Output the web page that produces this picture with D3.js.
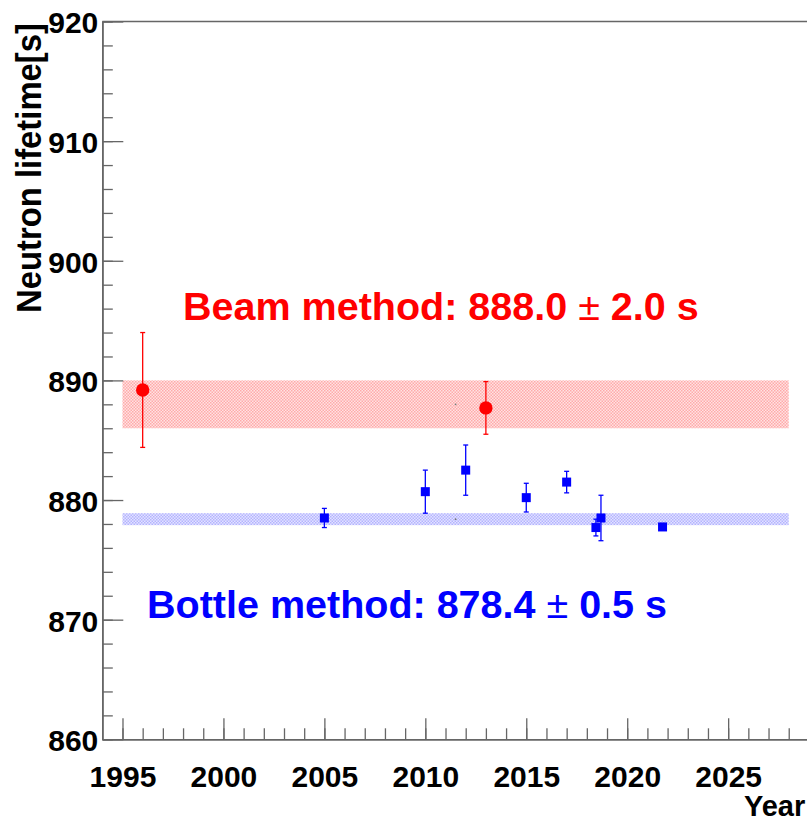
<!DOCTYPE html>
<html>
<head>
<meta charset="utf-8">
<script src="https://cdn.jsdelivr.net/npm/d3@7"></script>
<style>
  html, body { margin: 0; padding: 0; background: #fff; }
  svg { display: block; }
  text { font-family: "Liberation Sans", Arial, Helvetica, sans-serif; font-weight: bold; }
</style>
</head>
<body>
<svg id="chart" width="807" height="821"></svg>
<script>
// Beam-method measurements
const beamYears  = [1996, 2013];
const beamValues = [889.2, 887.7];
const beamErrors = [4.8, 2.2];

// Bottle-method measurements
const bottleYears  = [2005, 2010, 2012, 2015, 2017, 2018.45, 2018.7, 2021.75];
const bottleValues = [878.5, 880.7, 882.5, 880.2, 881.5, 877.7, 878.5, 877.75];
const bottleErrors = [0.8, 1.8, 2.1, 1.2, 0.9, 0.7, 1.9, 0.28];

// Averages drawn as bands (centre year, half-width in years)
const bandCentreYear = 2011.5;
const bandHalfWidth  = 16.5;
const beamMean = 888.0, beamSigma = 2.0;
const bottleMean = 878.4, bottleSigma = 0.5;

// Axis ticks
const xMajorTicks = [1995, 2000, 2005, 2010, 2015, 2020, 2025];
const xMinorTicks = d3.range(1995, 2031, 1);
const yMajorTicks = [860, 870, 880, 890, 900, 910, 920];
const yMinorTicks = d3.range(860, 921, 2);

const svg = d3.select("#chart");
svg.append("rect").attr("width", 807).attr("height", 821).attr("fill", "#fff");

const x = d3.scaleLinear().domain([1994, 2030]).range([102.3, 829.1]);
const y = d3.scaleLinear().domain([860, 920]).range([739.3, 21.5]);

// Dotted fill patterns for the bands
const defs = svg.append("defs");
function checker(id, dark, light) {
  const p = defs.append("pattern").attr("id", id)
    .attr("patternUnits", "userSpaceOnUse").attr("width", 3).attr("height", 3);
  p.append("rect").attr("width", 3).attr("height", 3).attr("fill", light);
  p.append("rect").attr("x", 0).attr("y", 0).attr("width", 1.5).attr("height", 1.5).attr("fill", dark);
  p.append("rect").attr("x", 1.5).attr("y", 1.5).attr("width", 1.5).attr("height", 1.5).attr("fill", dark);
}
checker("beamHatch", "#ffaaaa", "#ffe3e3");
checker("bottleHatch", "#b3b3ff", "#e3e3ff");

const bands = [
  { mean: beamMean, sigma: beamSigma, fill: "url(#beamHatch)" },
  { mean: bottleMean, sigma: bottleSigma, fill: "url(#bottleHatch)" }
];
svg.append("g").selectAll("rect").data(bands).join("rect")
  .attr("x", x(bandCentreYear - bandHalfWidth))
  .attr("width", x(bandCentreYear + bandHalfWidth) - x(bandCentreYear - bandHalfWidth))
  .attr("y", d => y(d.mean + d.sigma))
  .attr("height", d => y(d.mean - d.sigma) - y(d.mean + d.sigma))
  .attr("fill", d => d.fill);
// centre markers of the bands
svg.append("g").selectAll("circle").data(bands).join("circle")
  .attr("cx", x(bandCentreYear)).attr("cy", d => y(d.mean)).attr("r", 0.9)
  .attr("fill", "#777");

// Axes: minor then major ticks, all drawn inward
const axisColor = "#666";
function styleAxis(g) {
  g.selectAll("path.domain").attr("stroke", axisColor).attr("stroke-width", 1.6);
  g.selectAll(".tick line").attr("stroke", axisColor).attr("stroke-width", 1.3);
}
svg.append("g").attr("transform", `translate(0,${y(860)})`)
  .call(d3.axisBottom(x).tickValues(xMinorTicks).tickSizeInner(-11).tickSizeOuter(0).tickFormat(""))
  .call(styleAxis);
const xAxisG = svg.append("g").attr("transform", `translate(0,${y(860)})`)
  .call(d3.axisBottom(x).tickValues(xMajorTicks).tickSizeInner(-21).tickSizeOuter(0).tickFormat(d3.format("d")))
  .call(styleAxis);
xAxisG.selectAll(".tick text")
  .attr("y", 47.5).attr("dy", null)
  .attr("fill", "#000").attr("font-size", 30)
  .attr("font-family", "Liberation Sans, Arial, sans-serif").attr("font-weight", "bold");

svg.append("g").attr("transform", `translate(${x(1994)},0)`)
  .call(d3.axisLeft(y).tickValues(yMinorTicks).tickSizeInner(-10.5).tickSizeOuter(0).tickFormat(""))
  .call(styleAxis);
const yAxisG = svg.append("g").attr("transform", `translate(${x(1994)},0)`)
  .call(d3.axisLeft(y).tickValues(yMajorTicks).tickSizeInner(-21).tickSizeOuter(0).tickFormat(d3.format("d")))
  .call(styleAxis);
yAxisG.selectAll(".tick text")
  .attr("x", -4).attr("dy", "0.38em")
  .attr("fill", "#000").attr("font-size", 30)
  .attr("font-family", "Liberation Sans, Arial, sans-serif").attr("font-weight", "bold");

// Top frame line
svg.append("line")
  .attr("x1", x(1994)).attr("x2", x(2030)).attr("y1", y(920)).attr("y2", y(920))
  .attr("stroke", axisColor).attr("stroke-width", 1.6);

// Axis titles
svg.append("text")
  .attr("transform", `translate(40.5,23) rotate(-90)`)
  .attr("text-anchor", "end").attr("font-size", 35)
  .attr("textLength", 290).attr("lengthAdjust", "spacingAndGlyphs")
  .text("Neutron lifetime[s]");
svg.append("text")
  .attr("x", 744).attr("y", 816).attr("font-size", 29)
  .text("Year");

// Error bars with small caps
function errorBars(years, values, errors, color) {
  const data = years.map((yr, i) => ({ yr, v: values[i], e: errors[i] }));
  const g = svg.append("g").attr("stroke", color).attr("stroke-width", 1.3);
  g.selectAll("line.bar").data(data).join("line").attr("class", "bar")
    .attr("x1", d => x(d.yr)).attr("x2", d => x(d.yr))
    .attr("y1", d => y(d.v + d.e)).attr("y2", d => y(d.v - d.e));
  ["+", "-"].forEach(s => {
    g.selectAll("line.cap" + (s === "+" ? "t" : "b")).data(data).join("line")
      .attr("class", "cap" + (s === "+" ? "t" : "b"))
      .attr("x1", d => x(d.yr) - 2.5).attr("x2", d => x(d.yr) + 2.5)
      .attr("y1", d => y(s === "+" ? d.v + d.e : d.v - d.e))
      .attr("y2", d => y(s === "+" ? d.v + d.e : d.v - d.e));
  });
  return data;
}

const beamData = errorBars(beamYears, beamValues, beamErrors, "#ff0000");
svg.append("g").selectAll("circle").data(beamData).join("circle")
  .attr("cx", d => x(d.yr)).attr("cy", d => y(d.v)).attr("r", 6.7)
  .attr("fill", "#ff0000");

const bottleData = errorBars(bottleYears, bottleValues, bottleErrors, "#0000ff");
svg.append("g").selectAll("rect").data(bottleData).join("rect")
  .attr("x", d => x(d.yr) - 4.5).attr("y", d => y(d.v) - 4.5)
  .attr("width", 9).attr("height", 9)
  .attr("fill", "#0000ff");

// Average annotations (slightly widened to the Helvetica-like set width)
function label(xp, yp, color, head, tail) {
  const t = svg.append("text").attr("x", xp).attr("y", yp)
    .attr("font-size", 38.5).attr("fill", color);
  t.append("tspan").text(head + " ");
  t.append("tspan").attr("font-weight", "normal").text("±");
  t.append("tspan").text(" " + tail);
  const w = t.node().getComputedTextLength();
  t.attr("textLength", w * 1.026).attr("lengthAdjust", "spacingAndGlyphs");
}
label(183, 319.5, "#ff0000", `Beam method: ${beamMean.toFixed(1)}`, `${beamSigma.toFixed(1)} s`);
label(147, 617.5, "#0000ff", `Bottle method: ${bottleMean.toFixed(1)}`, `${bottleSigma.toFixed(1)} s`);
</script>
</body>
</html>
